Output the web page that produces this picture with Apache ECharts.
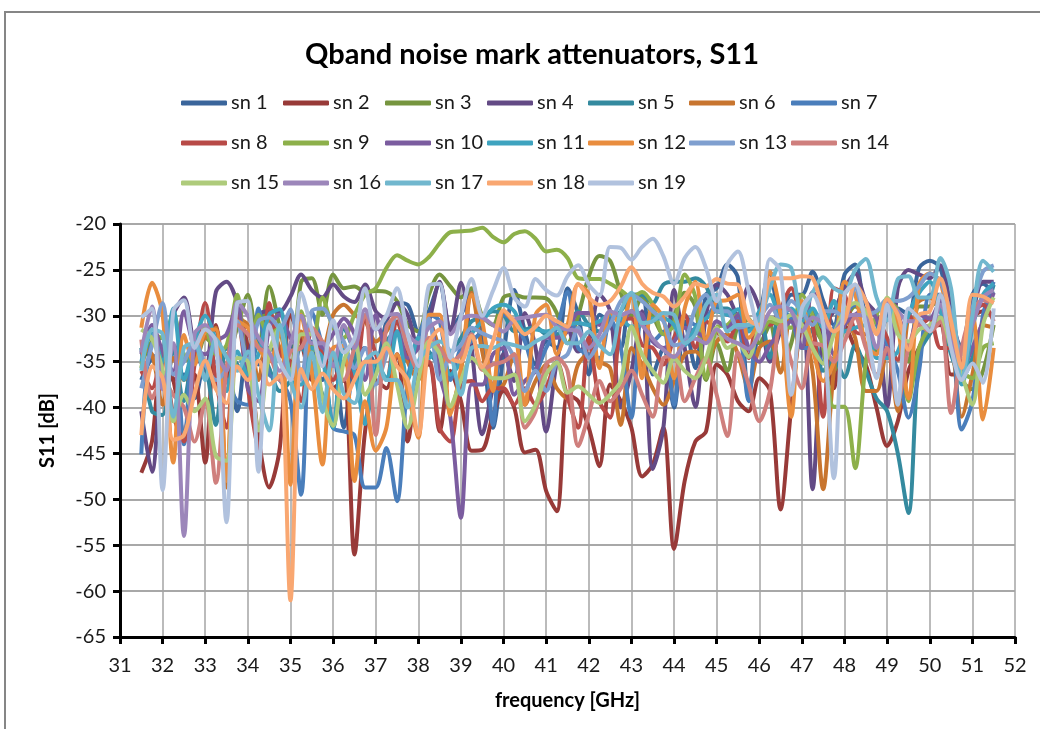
<!DOCTYPE html>
<html>
<head>
<meta charset="utf-8">
<title>Qband noise mark attenuators, S11</title>
<script src="https://cdn.jsdelivr.net/npm/echarts@6/dist/echarts.min.js"></script>
<style>
   html, body { margin: 0; padding: 0; background: #fff; overflow: hidden; }
   #chart { width: 1040px; height: 729px; }
</style>
</head>
<body>
<div id="chart"></div>
<script>
// measured every 0.25 GHz from 31.5 to 51.5
const freq = Array.from({ length: 81 }, (_, i) => 31.5 + i * 0.25);

const sn1 = [-37,-34.6,-34.2,-37,-36.4,-39,-35,-37,-35.7,-40.4,-33.5,-35.3,-33.5,-34.2,-33.2,-36.4,-32.8,-37,-34.6,-42.2,-35,-33.5,-35.3,-30.6,-28.6,-28.8,-31.7,
   -29.5,-26.5,-31.3,-29.9,-27.4,-32.8,-42.2,-34.2,-27.2,-31.7,-35.3,-32.8,-33.5,-27,-29.9,-36.4,-29.9,-31,-33.5,-27.7,-27.7,-36.4,-33.5,-40,-30.6,-35.7,-27.7,-27,
   -24.4,-25.9,-38.2,-30.6,-25.2,-30.3,-27.7,-27.7,-25.2,-28.4,-31,-25.5,-24.4,-30.6,-33.5,-29.9,-29.2,-29.9,-24.8,-24,-24.8,-30.6,-33.5,-27.7,-26.5,-27.7];
const sn2 = [-47.1,-43.7,-33.5,-37,-42.6,-36.4,-46,-31,-37,-29.2,-33.5,-43.3,-48.7,-44.4,-29.9,-32.8,-37,-33.5,-37.9,-37,-56,-42.6,-37,-37.9,-34.2,-43.7,-36,
   -35.3,-42.6,-36,-39.3,-44.7,-44.6,-40.8,-38.2,-40,-44.9,-44.6,-49.1,-51.3,-38.6,-39.3,-42.2,-46.4,-37.5,-39.3,-42.2,-47.5,-46.2,-42.2,-55.4,-48,-43.7,-42.6,-35.3,
   -36.4,-39.3,-40.4,-36.8,-38.2,-51.1,-40,-30.6,-29.5,-32.8,-37.9,-31,-33.5,-35.3,-40,-44.2,-41.5,-36,-33.5,-31.3,-31,-36.4,-36.4,-30.3,-29.5,-29.9];
const sn3 = [-35.3,-32.8,-32.4,-33.2,-34.6,-35,-32.4,-33.5,-34.2,-31.3,-27.7,-33.5,-26.8,-31.3,-36.4,-26.3,-25.9,-29.9,-25.5,-27,-26.8,-27.4,-27.3,-27.4,-28.4,-31,-31.7,
   -27.7,-25.5,-26.8,-28,-27,-30,-31,-28,-27.7,-28,-28,-28.1,-29.7,-33,-30,-25.7,-23.5,-24,-27.5,-30,-28,-30,-32,-30,-27.5,-29,-37,-33,
   -36,-31,-30.5,-33,-31,-36,-33,-28.5,-31,-33,-36,-31,-29,-30,-34,-29,-31,-35,-29,-29,-28,-32,-37,-38,-36,-31];
const sn4 = [-40.4,-47,-34.2,-29.9,-28,-33.5,-36,-27.4,-26.3,-28.6,-34.2,-29.9,-29.5,-29.5,-27.9,-25.5,-27.2,-28,-26.6,-27.9,-28.5,-26.6,-29.5,-30.3,-28.6,-29.9,-33.5,
   -30.6,-26.3,-31.7,-26.4,-33.5,-42.9,-37.9,-34.2,-37.1,-29.7,-33.5,-42.6,-35,-31.3,-33.9,-32.8,-27.7,-29.5,-40,-36,-29.5,-46.7,-42.2,-27.2,-33.5,-39.9,-29.9,-26.6,
   -27.7,-29.9,-26.8,-29.2,-35,-31.7,-30.3,-29.2,-48.9,-31.3,-29.5,-27,-25.4,-28.4,-29.9,-39.9,-27,-25,-25.5,-25.9,-24.5,-29.2,-34.2,-29.9,-26.3,-26.3];
const sn5 = [-33.5,-40.4,-40.8,-33.5,-39.3,-34.6,-35.3,-41.9,-33.5,-35.3,-37,-32.8,-35.7,-38.2,-37,-33.5,-35.3,-38.6,-42.2,-31.3,-34.2,-41.8,-36,-32.8,-31.7,-35,-32.8,
   -33.9,-35.3,-34.2,-32.4,-30.6,-30.2,-29.5,-29.9,-31.7,-31.5,-31.2,-32,-32,-31.3,-29.5,-31,-31.7,-30.4,-29.5,-27.7,-27.7,-28.6,-26.6,-26.3,-26.3,-25.9,-26.8,-29.2,
   -29.2,-30.3,-31.3,-29.9,-34.6,-29.2,-30.3,-31.3,-31.7,-36,-34.6,-36.7,-33.2,-36,-39,-40.4,-45,-51.5,-34.2,-32,-30.6,-34.2,-36.8,-34.6,-30.6,-26.6];
const sn6 = [-33.5,-34.2,-39.7,-34.6,-37,-33.5,-32.4,-31.3,-48.7,-30.3,-31,-37,-30.3,-33.5,-35.3,-31.7,-35.7,-34.2,-29.9,-28.8,-29.9,-30.6,-32.8,-31.7,-29.9,-35,-37,
   -30.6,-33.9,-40.4,-36,-27.5,-33.9,-38.2,-37.5,-34.2,-39.7,-37.1,-35.3,-37.9,-39,-35.3,-34.2,-35,-35.7,-41.9,-33.5,-35.3,-37.9,-39.7,-37.1,-34.2,-33.9,-35,-32.8,
   -32,-34.2,-37.9,-33.5,-32.8,-36.2,-29.9,-31,-36,-48.9,-36,-30.2,-32.4,-38.2,-38.2,-33.5,-40.4,-29.9,-28.4,-28,-29.5,-32.4,-41,-36.4,-31,-31.3];
const sn7 = [-45.1,-33,-33.5,-33.5,-44,-32,-35,-35,-37,-39.3,-39.7,-29.2,-36.4,-37,-39.3,-49.5,-29.5,-33.5,-42.2,-42.6,-43,-48.7,-48.7,-44.4,-50.2,-37,-32.4,
   -29.9,-30.6,-37,-33.5,-32.8,-31.7,-41.9,-29.9,-30.6,-32.8,-36,-33.5,-31.3,-27.4,-33.5,-34.2,-34.6,-30.3,-33.5,-41.1,-29.9,-32.8,-31.7,-39.7,-29.9,-31,-30.3,-28.8,
   -29.9,-30.3,-39.3,-29.9,-31,-29.5,-30.3,-33.5,-33.5,-35.2,-31.3,-29.9,-28.8,-29.9,-31,-33.2,-36,-41.1,-36,-27.7,-27.7,-29.9,-42.4,-39.3,-29.9,-26.3];
const sn8 = [-36,-37.9,-33.9,-40.8,-43.7,-35.3,-28.6,-37,-42.2,-29.9,-37.9,-44.4,-28.6,-34.2,-35,-39.3,-31.7,-34.2,-37,-35,-37,-30.3,-34.2,-37,-30.6,-34.2,-36,
   -35,-42.2,-43.7,-37.5,-37.1,-39.3,-37.9,-37.9,-39.7,-37.9,-39.7,-37.9,-35,-38.9,-42.2,-32.4,-39.3,-41.1,-30.6,-30.3,-33.2,-33.5,-35.3,-32.4,-29.9,-33.5,-30.6,-31.7,
   -32.8,-30.6,-34.6,-29.9,-31,-29.2,-27,-30.3,-31,-41,-27,-27.7,-31.7,-32,-30.3,-32.4,-34.8,-29.9,-31,-30.3,-33.5,-33.5,-35,-29.9,-28.8,-30.6];
const sn9 = [-35.7,-32,-32.4,-29.9,-34.2,-35,-31.3,-34.2,-33.2,-27.7,-36.4,-29.9,-32,-31.3,-37,-29.5,-33.9,-28,-31.3,-32.4,-29.9,-27.7,-27,-24.8,-23.4,-24,-24.4,
   -23.6,-22.1,-20.9,-20.8,-20.7,-20.4,-21.4,-22,-21.1,-20.8,-21.6,-23,-22.8,-23.7,-25.9,-26,-26,-26.5,-27.2,-28,-27.4,-28.8,-32,-31,-25.5,-28,-36.8,-31.3,
   -31,-29.9,-30.3,-32,-30.6,-31,-31.3,-27.7,-29.9,-33.5,-39.9,-39.9,-46.6,-35,-29.9,-28.4,-29.5,-39.3,-33.5,-31.3,-30.6,-32.8,-36,-36.8,-33.5,-33];
const sn10 = [-34.2,-31,-33.9,-36,-29.5,-33.5,-34.2,-32.8,-32,-28.8,-37.9,-39.3,-31.3,-29.9,-32.4,-33.5,-31.7,-33.5,-32,-30.3,-32,-37,-29.9,-33.5,-31.7,-34.6,-33.5,
   -30.6,-36.4,-41,-52,-37.5,-37.5,-34.2,-33.5,-38.6,-37.1,-36,-32.4,-32.4,-31.7,-29.7,-29.7,-31,-29.9,-30.6,-29.5,-29.9,-32.8,-33.5,-32.8,-31.3,-31.7,-32.4,-30.6,
   -31.3,-29.9,-33.5,-35,-33.2,-31.7,-30.6,-33.5,-27.4,-29.5,-34.2,-31,-29.9,-29.2,-30.3,-34.6,-29.9,-33.5,-29.9,-30.3,-28.4,-31.7,-36,-33.5,-30.6,-27.5];
const sn11 = [-35,-31.9,-35,-29.2,-37,-32.8,-30,-32.8,-38.2,-33.9,-36.4,-34.2,-29.9,-29.3,-37,-37.5,-33.5,-34.6,-42.2,-33.5,-36,-41.8,-35,-36.8,-31.7,-37,-32.4,
   -34.6,-33.5,-36.4,-35,-32,-30.6,-29.2,-28.8,-29.5,-31.7,-31.5,-31.7,-31.3,-31,-30.8,-31,-30.6,-29.9,-30.3,-31.2,-31,-30.3,-30.3,-31,-33.2,-31.3,-30.3,-29.5,
   -29.9,-29.3,-31.7,-29.5,-27.7,-29.9,-29.2,-30.6,-29.2,-31.3,-28.4,-31.7,-31.3,-31,-34.6,-34.6,-33.9,-29.9,-27.5,-26.3,-29.5,-33.5,-37.5,-31.3,-27.7,-26.5];
const sn12 = [-31.3,-26.4,-29.9,-46,-32.1,-35.3,-31.7,-31.5,-48,-30.6,-31.3,-33.5,-35,-31.7,-48.4,-29.9,-36,-46.2,-33.5,-33.3,-48,-39.3,-44.7,-42.2,-34.2,-38.2,-43.3,
   -29.9,-29.9,-40.8,-35.7,-27.7,-30.6,-38.2,-29.5,-31,-39.7,-29.9,-28.8,-34.2,-31,-26.6,-27.7,-35.7,-29.5,-31,-27.7,-36.8,-28.8,-30.3,-36.8,-29.2,-26.3,-32.8,-28.4,
   -28.3,-27.7,-32.4,-30.6,-25.2,-29.9,-41,-28.4,-33.5,-37.1,-35,-26.3,-27.7,-33.2,-34.2,-28.4,-31.3,-39,-26.6,-25.4,-26.3,-32,-34.2,-29.9,-41.3,-33.5];
const sn13 = [-37.9,-33.2,-28.6,-36.4,-35,-32.8,-35.3,-37,-35.7,-30.6,-35,-30.6,-30.2,-31.3,-29.3,-37,-29.5,-29.2,-31,-32.8,-35.7,-33.5,-37.5,-34.2,-29.9,-33.5,-35.3,
   -30.3,-37,-34.2,-33.2,-31.3,-31.9,-32.4,-32.8,-34.6,-38.2,-36,-38.2,-35,-34.2,-31.3,-34.6,-32.8,-31,-28.4,-27.7,-28.4,-29.5,-30.6,-33.2,-32.8,-29.2,-27.7,-29.5,
   -29.5,-31.3,-31,-30.2,-28.8,-30.6,-28.4,-29.5,-31,-29.5,-29.5,-30.2,-26.8,-29.9,-29.5,-28.2,-28.4,-28,-26.8,-25.4,-26.3,-29.9,-34.2,-29.2,-25.2,-24.5];
const sn14 = [-32.6,-39,-37,-38.6,-40,-43.7,-39.3,-48.2,-35.7,-31,-32,-33.5,-34.2,-37,-33.9,-33.5,-31.3,-32.8,-34.2,-37,-33.5,-29.9,-43,-31.3,-30,-33.5,-36,
   -32.4,-33.5,-35,-34.2,-32,-35.9,-35.3,-35,-34.2,-42.2,-40.4,-35.3,-34.6,-36,-44.2,-40.8,-37.1,-39.3,-37.9,-36,-38.6,-41,-34.6,-34.4,-39.3,-36.8,-34.6,-38.6,
   -43.1,-34,-37.5,-41.5,-38.2,-31,-35,-37.9,-33,-33.3,-35,-32.8,-30.2,-33.5,-36.4,-33.5,-39.3,-33.5,-31,-31.7,-30.6,-40.6,-33.5,-29.5,-28.3,-28.6];
const sn15 = [-31.5,-32.5,-35.9,-41.5,-38.6,-40.4,-39,-45.3,-45.8,-34.6,-35,-42.5,-34,-31.3,-36.4,-32,-32,-39,-42,-35,-32.6,-38.6,-36.5,-33,-37.5,-42.2,-37,
   -32.8,-34.2,-39.9,-37,-34.6,-35.7,-36.8,-36.8,-36.4,-41.5,-39.7,-36.4,-35.1,-38.4,-37.7,-38.6,-39.5,-38.6,-37.1,-31.2,-34.2,-36,-37.3,-34.6,-36,-36.8,-34.6,-31.3,
   -33.5,-33,-34.5,-31.3,-30.2,-30.6,-29.9,-31,-33.5,-35.2,-32,-29.5,-28.6,-29.5,-31.7,-28,-32,-32.8,-31.5,-31,-30.2,-33.5,-36.4,-39.7,-31,-28];
const sn16 = [-34,-29,-38,-33,-54,-32,-31,-34,-36,-28.5,-30,-32.4,-34,-36,-33,-30,-33,-33,-35.5,-31,-33.5,-29.3,-31.5,-30,-29.8,-32,-33,
   -31.3,-30.6,-32,-30.4,-30,-30.2,-31,-31.7,-30.4,-30.2,-30,-29.9,-31.2,-31.5,-31.7,-33.5,-32,-29.5,-29.9,-29.5,-31,-32.5,-33.7,-34.5,-33,-32.5,-33,-31.5,
   -32.5,-33,-33.6,-32,-29.5,-29,-29.5,-31.7,-30.2,-30.8,-31.7,-30.2,-29.9,-30.2,-33.5,-28.4,-29.5,-30.6,-30.6,-31.5,-28.8,-32.8,-35.7,-31,-28,-27.2];
const sn17 = [-36,-31.5,-32,-41,-33.5,-33,-37,-32.5,-34.5,-36,-33.9,-38.6,-42.5,-31,-37,-40,-34,-40.5,-34,-38.5,-39.5,-35,-34,-37,-37,-40,-35,
   -33.5,-32.8,-34,-38.6,-33.5,-33.3,-33.5,-33,-33.2,-33.5,-32.8,-32.2,-31.3,-33,-33,-31.7,-33.2,-34.2,-29.5,-27.5,-30.8,-30.6,-29.7,-29.9,-33,-32,-28.8,-27.7,
   -31.7,-31,-31,-30.5,-27,-24.4,-24.8,-30,-27.5,-25.8,-27,-27.5,-25,-23.8,-28,-30.5,-26,-25.7,-28,-28,-23.7,-27,-37,-30,-24,-25.2];
const sn18 = [-43,-35.5,-36.8,-43.5,-43,-38.5,-34.9,-38,-39.5,-35.5,-37,-34.9,-37.5,-36.5,-61,-35.8,-38,-36.3,-38,-39,-37,-35,-35,-33.5,-35.5,-37,-43,
   -33,-31.5,-34.6,-35,-32.2,-35.6,-32.8,-29.4,-30.6,-32,-31.2,-30,-30.6,-31.2,-26.5,-28,-28.8,-28.4,-26.8,-24.7,-26.5,-27.5,-27.9,-29,-27.9,-26.5,-26.8,-26,
   -26.5,-26.6,-30.4,-31,-26,-25.9,-25.9,-25.7,-25.9,-29.5,-31.7,-30.6,-26.6,-28.4,-32,-28.2,-29.9,-33.7,-29.9,-29.5,-25.9,-30.6,-35.7,-27.7,-27.9,-28.6];
const sn19 = [-30.2,-29.2,-49,-29.5,-28.3,-33.5,-31.5,-32.8,-52.5,-28.6,-28.4,-47,-31,-35,-37,-27.5,-31.5,-35.5,-30.5,-34,-32.5,-27,-31.5,-30,-27,-32,-35.5,
   -26.7,-26.5,-34.6,-30,-26,-30,-27.3,-24.8,-28,-29,-26,-27.2,-27.8,-25.7,-24.5,-26.6,-27.8,-22.5,-22.6,-23.9,-22.5,-21.6,-23.5,-26.5,-23.7,-22.5,-24.8,-28.4,
   -24.4,-23,-27.3,-31.7,-23.8,-25.2,-38.6,-29.2,-27.7,-31,-47.7,-27.7,-26.6,-31,-36.8,-28.8,-39.7,-29.2,-30.3,-31.7,-27.7,-33.5,-37,-35.2,-37.3,-29.2];

const seriesNames = ["sn 1", "sn 2", "sn 3", "sn 4", "sn 5", "sn 6", "sn 7", "sn 8", "sn 9", "sn 10",
   "sn 11", "sn 12", "sn 13", "sn 14", "sn 15", "sn 16", "sn 17", "sn 18", "sn 19"];
const seriesValues = [sn1, sn2, sn3, sn4, sn5, sn6, sn7, sn8, sn9, sn10, sn11, sn12, sn13, sn14, sn15, sn16, sn17, sn18, sn19];
const seriesColors = ["#3A659B", "#983A38", "#76953F", "#634A85", "#348A9F", "#C8752F", "#4A7EBB", "#B84A47", "#8DB04A", "#7B5C9F",
   "#3EA3BF", "#E98D3E", "#7F9FCF", "#CF7F7D", "#AECB7B", "#9C86BA", "#71B7CE", "#F9A771", "#B1C2DE"];

const FONT = "Lato, 'Open Sans', sans-serif";
const legendCols = [181, 283, 385, 487, 588, 689, 791];
const legendRows = [104, 144, 184];

const chart = echarts.init(document.getElementById("chart"));

chart.setOption({
   animation: false,
   backgroundColor: "#fff",
   textStyle: { fontFamily: FONT, color: "#000" },
   title: {
      text: "Qband noise mark attenuators, S11",
      left: 527,
      top: 35,
      textAlign: "center",
      textStyle: { fontFamily: FONT, fontSize: 29, fontWeight: "bold", color: "#000" },
   },
   // one legend per entry so the columns stay put like the excel one
   legend: seriesNames.map((name, i) => ({
      data: [name],
      left: legendCols[i % 7],
      top: legendRows[Math.floor(i / 7)] - 11,
      padding: 0,
      icon: "roundRect",
      itemWidth: 46,
      itemHeight: 5,
      selectedMode: false,
      textStyle: { fontFamily: FONT, fontSize: 20, color: "#1a1a1a", padding: [1, 0, 0, -1] },
   })),
   grid: { left: 120, right: 25, top: 224, bottom: 92 },
   xAxis: {
      type: "value",
      min: 31,
      max: 52,
      interval: 1,
      name: "frequency [GHz]",
      nameLocation: "middle",
      nameGap: 54,
      nameTextStyle: { fontFamily: FONT, fontSize: 20, fontWeight: "bold", color: "#000" },
      axisLine: { lineStyle: { color: "#000", width: 3 } },
      axisTick: { length: 7, lineStyle: { color: "#000", width: 3 } },
      axisLabel: { fontSize: 20, color: "#1a1a1a", margin: 19, hideOverlap: false, showMinLabel: true, showMaxLabel: true },
      splitLine: { show: true, lineStyle: { color: "#a4a4a4", width: 1.5 } },
   },
   yAxis: {
      type: "value",
      min: -65,
      max: -20,
      interval: 5,
      name: "S11 [dB]",
      nameLocation: "middle",
      nameGap: 62,
      nameTextStyle: { fontFamily: FONT, fontSize: 20, fontWeight: "bold", color: "#000" },
      axisLine: { show: true, lineStyle: { color: "#000", width: 3 } },
      axisTick: { show: true, length: 7, lineStyle: { color: "#000", width: 3 } },
      axisLabel: { fontSize: 20, color: "#1a1a1a", margin: 14, showMinLabel: true, showMaxLabel: true },
      splitLine: { show: true, lineStyle: { color: "#a8a8a8", width: 2 } },
   },
   graphic: [
      {
         type: "rect",
         silent: true,
         z: -1,
         shape: { x: 5, y: 12, width: 1200, height: 900 },
         style: { fill: "none", stroke: "#868686", lineWidth: 2 },
      },
   ],
   series: seriesNames.map((name, i) => ({
      name: name,
      type: "line",
      data: seriesValues[i].map((v, k) => [freq[k], v]),
      smooth: 0.3,
      showSymbol: false,
      color: seriesColors[i],
      lineStyle: { width: 4, color: seriesColors[i] },
      z: 2,
   })),
});
</script>
</body>
</html>
